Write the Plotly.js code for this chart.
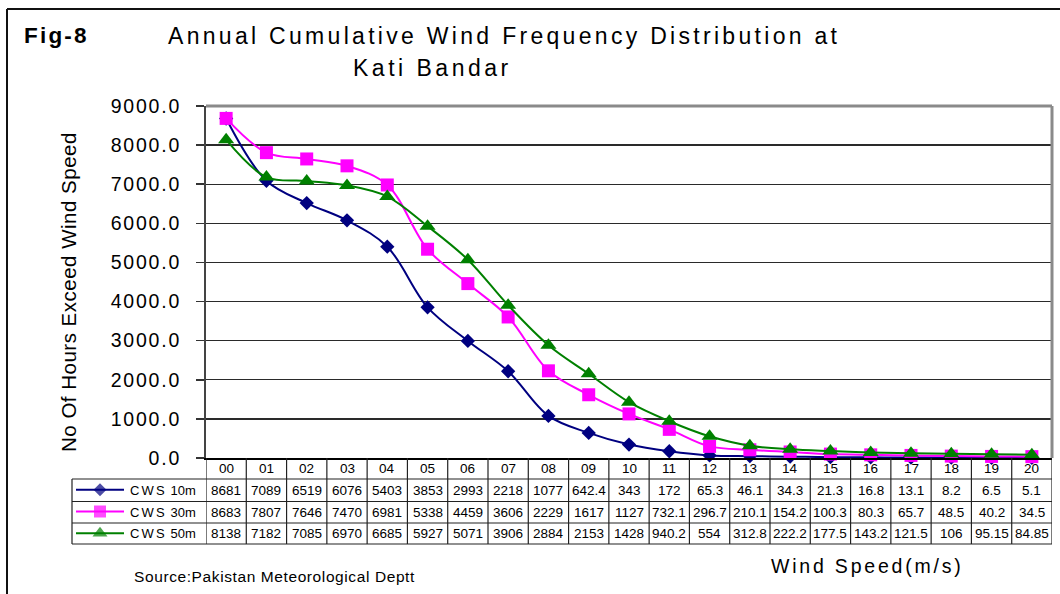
<!DOCTYPE html>
<html>
<head>
<meta charset="utf-8">
<script src="https://cdn.plot.ly/plotly-3.0.1.min.js"></script>
<style>
  html, body { margin: 0; padding: 0; background: #fff; }
  #chart { width: 1060px; height: 594px; }
</style>
</head>
<body>
<div id="chart"></div>
<script>
// ---------------- data ----------------
const categories = ["00","01","02","03","04","05","06","07","08","09","10","11","12","13","14","15","16","17","18","19","20"];
const seriesNames = ["CWS 10m", "CWS 30m", "CWS 50m"];
const cws10 = [8681,7089,6519,6076,5403,3853,2993,2218,1077,642.4,343,172,65.3,46.1,34.3,21.3,16.8,13.1,8.2,6.5,5.1];
const cws30 = [8683,7807,7646,7470,6981,5338,4459,3606,2229,1617,1127,732.1,296.7,210.1,154.2,100.3,80.3,65.7,48.5,40.2,34.5];
const cws50 = [8138,7182,7085,6970,6685,5927,5071,3906,2884,2153,1428,940.2,554,312.8,222.2,177.5,143.2,121.5,106,95.15,84.85];
const yTickVals = [0,1000,2000,3000,4000,5000,6000,7000,8000,9000];

const figLabel = "Fig-8";
const titleLine1 = "Annual Cumulative Wind Frequency Distribution at";
const titleLine2 = "Kati Bandar";
const yTitle = "No Of Hours Exceed Wind Speed";
const xTitle = "Wind Speed(m/s)";
const sourceText = "Source:Pakistan Meteorological Deptt";

// ---------------- layout helpers ----------------
const W = 1060, H = 594;
const px = v => v / W;            // pixel x -> paper
const py = v => 1 - v / H;        // pixel y -> paper
const FONT = "Liberation Sans, Arial, sans-serif";
const sp = (t, s) => '<span style="letter-spacing:' + s + 'px">' + t + '</span>';

const plotL = 206, plotR = 1052, plotT = 106, plotB = 458;
const tableRows = [479, 501.5, 523, 544];   // horizontal lines of table body
const legendL = 72;

const allSeries = [cws10, cws30, cws50];
const colors = ["#000080", "#FF00FF", "#008000"];
const symbols = ["diamond", "square", "triangle-up"];
const msizes = [11, 13, 14];

const traces = [];
allSeries.forEach((vals, i) => {
  traces.push({
    type: "scatter", mode: "lines+markers",
    x: categories, y: vals, name: seriesNames[i],
    line: { color: colors[i], width: 2, shape: "spline", smoothing: 1 },
    marker: { color: colors[i], symbol: symbols[i], size: msizes[i], line: { width: 0 } },
    cliponaxis: false, xaxis: "x", yaxis: "y", showlegend: false
  });
});
// legend samples inside table rows (own small axes)
allSeries.forEach((vals, i) => {
  const r = 2.5 - i;
  traces.push({
    type: "scatter", mode: "lines+markers",
    x: [0, 0.5, 1], y: [r, r, r],
    line: { color: colors[i], width: 2 },
    marker: { color: colors[i], symbol: symbols[i], size: [0, msizes[i] - 1, 0], line: { width: 0 } },
    cliponaxis: false, xaxis: "x2", yaxis: "y2", showlegend: false, hoverinfo: "skip"
  });
});

const shapes = [];
const annotations = [];
const line = (x0, y0, x1, y1, color, width) => shapes.push({
  type: "line", xref: "paper", yref: "paper",
  x0: px(x0), y0: py(y0), x1: px(x1), y1: py(y1),
  line: { color: color, width: width }, layer: "above"
});

// outer frame (top + left)
line(7, 9, W, 9, "#111", 2);
line(7, 9, 7, H, "#111", 2);
// plot area border (top + right, grey)
line(plotL, plotT, plotR, plotT, "#8a8a8a", 3);
line(plotR, plotT, plotR, plotB, "#8a8a8a", 3);

// table horizontal lines
tableRows.forEach(y => line(legendL, y, plotR, y, "#222", 1.2));
// legend column left edge
line(legendL, tableRows[0], legendL, tableRows[3], "#222", 1.2);
// vertical cell boundaries via category scale
for (let i = 0; i <= categories.length; i++) {
  shapes.push({
    type: "line", xref: "x", yref: "paper",
    x0: i - 0.5, x1: i - 0.5, y0: py(tableRows[3]), y1: py(plotB),
    line: { color: "#222", width: 1.2 }, layer: "above"
  });
}

// header row (category labels)
categories.forEach(c => annotations.push({
  xref: "x", yref: "paper", x: c, y: py(468.5),
  text: c, showarrow: false, xanchor: "center", yanchor: "middle",
  font: { family: FONT, size: 13.5, color: "#000" }
}));

// table cell values
const rowCenters = [490, 512, 533.5];
allSeries.forEach((vals, r) => {
  vals.forEach((v, i) => {
    annotations.push({
      xref: "x", yref: "paper", x: categories[i], y: py(rowCenters[r]),
      text: String(v), showarrow: false, xanchor: "center", yanchor: "middle",
      font: { family: FONT, size: 13.5, color: "#000" }
    });
  });
  const parts = seriesNames[r].split(" ");
  annotations.push({
    xref: "paper", yref: "paper", x: px(128), y: py(rowCenters[r]),
    text: sp(parts[0], 2.2) + " " + parts[1], showarrow: false,
    xanchor: "left", yanchor: "middle",
    font: { family: FONT, size: 13, color: "#000" }
  });
});

// titles and texts
annotations.push(
  { xref: "paper", yref: "paper", x: px(22), y: py(36), text: "<b>" + sp(figLabel, 2.2) + "</b>",
    showarrow: false, xanchor: "left", yanchor: "middle", font: { family: FONT, size: 22.5, color: "#000" } },
  { xref: "paper", yref: "paper", x: px(166), y: py(36), text: sp(titleLine1, 3.3),
    showarrow: false, xanchor: "left", yanchor: "middle", font: { family: FONT, size: 23, color: "#000" } },
  { xref: "paper", yref: "paper", x: px(351), y: py(68), text: sp(titleLine2, 3.5),
    showarrow: false, xanchor: "left", yanchor: "middle", font: { family: FONT, size: 23, color: "#000" } },
  { xref: "paper", yref: "paper", x: px(68), y: py(292), text: sp(yTitle, 0.5), textangle: -90,
    showarrow: false, xanchor: "center", yanchor: "middle", font: { family: FONT, size: 20.5, color: "#000" } },
  { xref: "paper", yref: "paper", x: px(769), y: py(566), text: sp(xTitle, 2.8),
    showarrow: false, xanchor: "left", yanchor: "middle", font: { family: FONT, size: 19.5, color: "#000" } },
  { xref: "paper", yref: "paper", x: px(132), y: py(576), text: sp(sourceText, 0.6),
    showarrow: false, xanchor: "left", yanchor: "middle", font: { family: FONT, size: 15.5, color: "#000" } }
);

const layout = {
  width: W, height: H,
  margin: { l: 0, r: 0, t: 0, b: 0, pad: 0 },
  paper_bgcolor: "#fff", plot_bgcolor: "#fff",
  showlegend: false,
  font: { family: FONT, color: "#000" },
  xaxis: {
    type: "category", domain: [px(plotL), px(plotR)], range: [-0.5, categories.length - 0.5],
    anchor: "y", showgrid: false, zeroline: false,
    showline: true, linecolor: "#000", linewidth: 2,
    ticks: "", showticklabels: false, fixedrange: true
  },
  yaxis: {
    domain: [py(plotB), py(plotT)], range: [0, 9000], anchor: "x",
    tickvals: yTickVals, ticktext: yTickVals.map(v => sp(v.toFixed(1), 1.8)),
    showgrid: true, gridcolor: "#2a2a2a", gridwidth: 1.4, zeroline: false,
    showline: true, linecolor: "#444", linewidth: 2,
    ticks: "outside", ticklen: 8, tickwidth: 1.5, tickcolor: "#333",
    tickfont: { family: FONT, size: 19.5, color: "#000" },
    ticklabelstandoff: 11, fixedrange: true
  },
  xaxis2: { domain: [px(76), px(124)], range: [0, 1], anchor: "y2", visible: false, fixedrange: true },
  yaxis2: { domain: [py(tableRows[3]), py(tableRows[0])], range: [0, 3], anchor: "x2", visible: false, fixedrange: true },
  shapes: shapes,
  annotations: annotations
};

Plotly.newPlot("chart", traces, layout, { displayModeBar: false, staticPlot: true });
</script>
</body>
</html>
